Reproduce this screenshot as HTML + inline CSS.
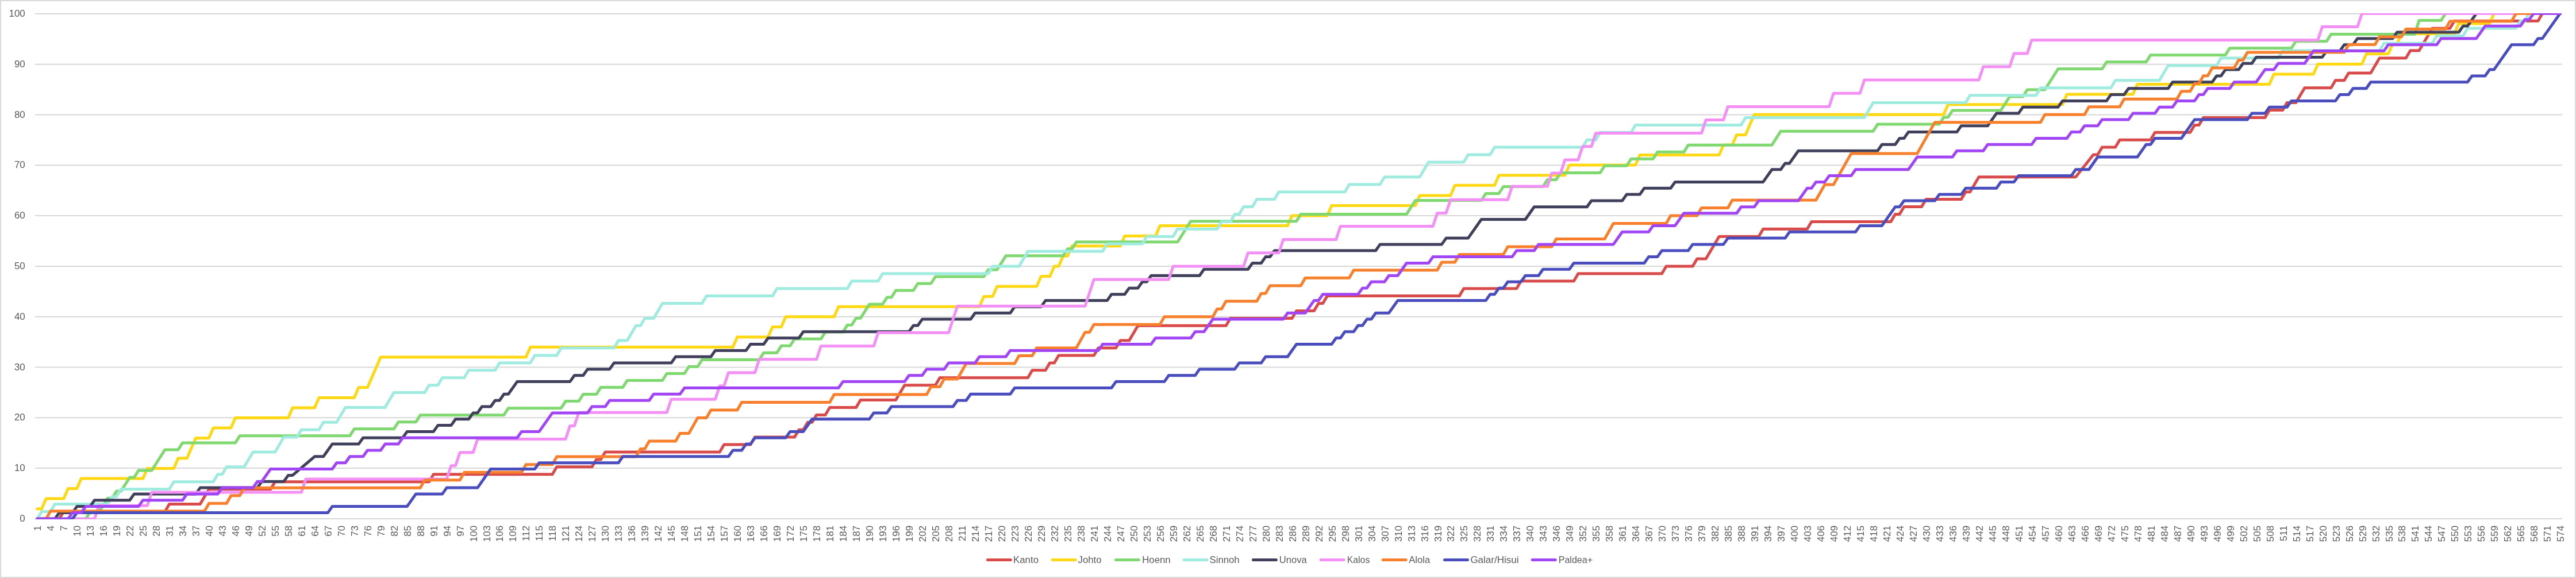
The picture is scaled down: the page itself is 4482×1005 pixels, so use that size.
<!DOCTYPE html>
<html><head><meta charset="utf-8"><title>Chart</title>
<style>
html,body{margin:0;padding:0;background:#fff}
body{width:4482px;height:1005px;overflow:hidden}
svg{display:block}
text{font-family:"Liberation Sans",sans-serif;font-size:17px;fill:#595959}
.s{fill:none;stroke-width:5.0;stroke-linejoin:round;stroke-linecap:round}
.g{stroke:#D7D7D7;stroke-width:2;fill:none}
</style></head><body>
<svg width="4482" height="1005" viewBox="0 0 4482 1005">
<rect x="0" y="0" width="4482" height="1005" fill="#fff"/>
<rect x="1" y="1" width="4480" height="1003" fill="none" stroke="#D9D9D9" stroke-width="2"/>
<g class="g">
<line x1="61.0" y1="901.9" x2="4458.0" y2="901.9"/>
<line x1="61.0" y1="814.1" x2="4458.0" y2="814.1"/>
<line x1="61.0" y1="726.3" x2="4458.0" y2="726.3"/>
<line x1="61.0" y1="638.5" x2="4458.0" y2="638.5"/>
<line x1="61.0" y1="550.7" x2="4458.0" y2="550.7"/>
<line x1="61.0" y1="462.9" x2="4458.0" y2="462.9"/>
<line x1="61.0" y1="375.1" x2="4458.0" y2="375.1"/>
<line x1="61.0" y1="287.3" x2="4458.0" y2="287.3"/>
<line x1="61.0" y1="199.5" x2="4458.0" y2="199.5"/>
<line x1="61.0" y1="111.7" x2="4458.0" y2="111.7"/>
<line x1="61.0" y1="23.9" x2="4458.0" y2="23.9"/>
</g>
<g text-anchor="end" style="filter:grayscale(1)">
<text x="43.8" y="907.0">0</text>
<text x="43.8" y="819.2">10</text>
<text x="43.8" y="731.4">20</text>
<text x="43.8" y="643.6">30</text>
<text x="43.8" y="555.8">40</text>
<text x="43.8" y="468.0">50</text>
<text x="43.8" y="380.2">60</text>
<text x="43.8" y="292.4">70</text>
<text x="43.8" y="204.6">80</text>
<text x="43.8" y="116.8">90</text>
<text x="43.8" y="29.0">100</text>
</g>
<g text-anchor="end" style="filter:grayscale(1)">
<text transform="translate(70.9,913.9) rotate(-90)">1</text>
<text transform="translate(93.9,913.9) rotate(-90)">4</text>
<text transform="translate(116.9,913.9) rotate(-90)">7</text>
<text transform="translate(139.9,913.9) rotate(-90)">10</text>
<text transform="translate(162.9,913.9) rotate(-90)">13</text>
<text transform="translate(185.9,913.9) rotate(-90)">16</text>
<text transform="translate(208.8,913.9) rotate(-90)">19</text>
<text transform="translate(231.8,913.9) rotate(-90)">22</text>
<text transform="translate(254.8,913.9) rotate(-90)">25</text>
<text transform="translate(277.8,913.9) rotate(-90)">28</text>
<text transform="translate(300.8,913.9) rotate(-90)">31</text>
<text transform="translate(323.8,913.9) rotate(-90)">34</text>
<text transform="translate(346.8,913.9) rotate(-90)">37</text>
<text transform="translate(369.7,913.9) rotate(-90)">40</text>
<text transform="translate(392.7,913.9) rotate(-90)">43</text>
<text transform="translate(415.7,913.9) rotate(-90)">46</text>
<text transform="translate(438.7,913.9) rotate(-90)">49</text>
<text transform="translate(461.7,913.9) rotate(-90)">52</text>
<text transform="translate(484.7,913.9) rotate(-90)">55</text>
<text transform="translate(507.7,913.9) rotate(-90)">58</text>
<text transform="translate(530.7,913.9) rotate(-90)">61</text>
<text transform="translate(553.6,913.9) rotate(-90)">64</text>
<text transform="translate(576.6,913.9) rotate(-90)">67</text>
<text transform="translate(599.6,913.9) rotate(-90)">70</text>
<text transform="translate(622.6,913.9) rotate(-90)">73</text>
<text transform="translate(645.6,913.9) rotate(-90)">76</text>
<text transform="translate(668.6,913.9) rotate(-90)">79</text>
<text transform="translate(691.6,913.9) rotate(-90)">82</text>
<text transform="translate(714.5,913.9) rotate(-90)">85</text>
<text transform="translate(737.5,913.9) rotate(-90)">88</text>
<text transform="translate(760.5,913.9) rotate(-90)">91</text>
<text transform="translate(783.5,913.9) rotate(-90)">94</text>
<text transform="translate(806.5,913.9) rotate(-90)">97</text>
<text transform="translate(829.5,913.9) rotate(-90)">100</text>
<text transform="translate(852.5,913.9) rotate(-90)">103</text>
<text transform="translate(875.4,913.9) rotate(-90)">106</text>
<text transform="translate(898.4,913.9) rotate(-90)">109</text>
<text transform="translate(921.4,913.9) rotate(-90)">112</text>
<text transform="translate(944.4,913.9) rotate(-90)">115</text>
<text transform="translate(967.4,913.9) rotate(-90)">118</text>
<text transform="translate(990.4,913.9) rotate(-90)">121</text>
<text transform="translate(1013.4,913.9) rotate(-90)">124</text>
<text transform="translate(1036.3,913.9) rotate(-90)">127</text>
<text transform="translate(1059.3,913.9) rotate(-90)">130</text>
<text transform="translate(1082.3,913.9) rotate(-90)">133</text>
<text transform="translate(1105.3,913.9) rotate(-90)">136</text>
<text transform="translate(1128.3,913.9) rotate(-90)">139</text>
<text transform="translate(1151.3,913.9) rotate(-90)">142</text>
<text transform="translate(1174.3,913.9) rotate(-90)">145</text>
<text transform="translate(1197.2,913.9) rotate(-90)">148</text>
<text transform="translate(1220.2,913.9) rotate(-90)">151</text>
<text transform="translate(1243.2,913.9) rotate(-90)">154</text>
<text transform="translate(1266.2,913.9) rotate(-90)">157</text>
<text transform="translate(1289.2,913.9) rotate(-90)">160</text>
<text transform="translate(1312.2,913.9) rotate(-90)">163</text>
<text transform="translate(1335.2,913.9) rotate(-90)">166</text>
<text transform="translate(1358.2,913.9) rotate(-90)">169</text>
<text transform="translate(1381.1,913.9) rotate(-90)">172</text>
<text transform="translate(1404.1,913.9) rotate(-90)">175</text>
<text transform="translate(1427.1,913.9) rotate(-90)">178</text>
<text transform="translate(1450.1,913.9) rotate(-90)">181</text>
<text transform="translate(1473.1,913.9) rotate(-90)">184</text>
<text transform="translate(1496.1,913.9) rotate(-90)">187</text>
<text transform="translate(1519.1,913.9) rotate(-90)">190</text>
<text transform="translate(1542.0,913.9) rotate(-90)">193</text>
<text transform="translate(1565.0,913.9) rotate(-90)">196</text>
<text transform="translate(1588.0,913.9) rotate(-90)">199</text>
<text transform="translate(1611.0,913.9) rotate(-90)">202</text>
<text transform="translate(1634.0,913.9) rotate(-90)">205</text>
<text transform="translate(1657.0,913.9) rotate(-90)">208</text>
<text transform="translate(1680.0,913.9) rotate(-90)">211</text>
<text transform="translate(1702.9,913.9) rotate(-90)">214</text>
<text transform="translate(1725.9,913.9) rotate(-90)">217</text>
<text transform="translate(1748.9,913.9) rotate(-90)">220</text>
<text transform="translate(1771.9,913.9) rotate(-90)">223</text>
<text transform="translate(1794.9,913.9) rotate(-90)">226</text>
<text transform="translate(1817.9,913.9) rotate(-90)">229</text>
<text transform="translate(1840.9,913.9) rotate(-90)">232</text>
<text transform="translate(1863.8,913.9) rotate(-90)">235</text>
<text transform="translate(1886.8,913.9) rotate(-90)">238</text>
<text transform="translate(1909.8,913.9) rotate(-90)">241</text>
<text transform="translate(1932.8,913.9) rotate(-90)">244</text>
<text transform="translate(1955.8,913.9) rotate(-90)">247</text>
<text transform="translate(1978.8,913.9) rotate(-90)">250</text>
<text transform="translate(2001.8,913.9) rotate(-90)">253</text>
<text transform="translate(2024.7,913.9) rotate(-90)">256</text>
<text transform="translate(2047.7,913.9) rotate(-90)">259</text>
<text transform="translate(2070.7,913.9) rotate(-90)">262</text>
<text transform="translate(2093.7,913.9) rotate(-90)">265</text>
<text transform="translate(2116.7,913.9) rotate(-90)">268</text>
<text transform="translate(2139.7,913.9) rotate(-90)">271</text>
<text transform="translate(2162.7,913.9) rotate(-90)">274</text>
<text transform="translate(2185.6,913.9) rotate(-90)">277</text>
<text transform="translate(2208.6,913.9) rotate(-90)">280</text>
<text transform="translate(2231.6,913.9) rotate(-90)">283</text>
<text transform="translate(2254.6,913.9) rotate(-90)">286</text>
<text transform="translate(2277.6,913.9) rotate(-90)">289</text>
<text transform="translate(2300.6,913.9) rotate(-90)">292</text>
<text transform="translate(2323.6,913.9) rotate(-90)">295</text>
<text transform="translate(2346.6,913.9) rotate(-90)">298</text>
<text transform="translate(2369.5,913.9) rotate(-90)">301</text>
<text transform="translate(2392.5,913.9) rotate(-90)">304</text>
<text transform="translate(2415.5,913.9) rotate(-90)">307</text>
<text transform="translate(2438.5,913.9) rotate(-90)">310</text>
<text transform="translate(2461.5,913.9) rotate(-90)">313</text>
<text transform="translate(2484.5,913.9) rotate(-90)">316</text>
<text transform="translate(2507.5,913.9) rotate(-90)">319</text>
<text transform="translate(2530.4,913.9) rotate(-90)">322</text>
<text transform="translate(2553.4,913.9) rotate(-90)">325</text>
<text transform="translate(2576.4,913.9) rotate(-90)">328</text>
<text transform="translate(2599.4,913.9) rotate(-90)">331</text>
<text transform="translate(2622.4,913.9) rotate(-90)">334</text>
<text transform="translate(2645.4,913.9) rotate(-90)">337</text>
<text transform="translate(2668.4,913.9) rotate(-90)">340</text>
<text transform="translate(2691.3,913.9) rotate(-90)">343</text>
<text transform="translate(2714.3,913.9) rotate(-90)">346</text>
<text transform="translate(2737.3,913.9) rotate(-90)">349</text>
<text transform="translate(2760.3,913.9) rotate(-90)">352</text>
<text transform="translate(2783.3,913.9) rotate(-90)">355</text>
<text transform="translate(2806.3,913.9) rotate(-90)">358</text>
<text transform="translate(2829.3,913.9) rotate(-90)">361</text>
<text transform="translate(2852.2,913.9) rotate(-90)">364</text>
<text transform="translate(2875.2,913.9) rotate(-90)">367</text>
<text transform="translate(2898.2,913.9) rotate(-90)">370</text>
<text transform="translate(2921.2,913.9) rotate(-90)">373</text>
<text transform="translate(2944.2,913.9) rotate(-90)">376</text>
<text transform="translate(2967.2,913.9) rotate(-90)">379</text>
<text transform="translate(2990.2,913.9) rotate(-90)">382</text>
<text transform="translate(3013.1,913.9) rotate(-90)">385</text>
<text transform="translate(3036.1,913.9) rotate(-90)">388</text>
<text transform="translate(3059.1,913.9) rotate(-90)">391</text>
<text transform="translate(3082.1,913.9) rotate(-90)">394</text>
<text transform="translate(3105.1,913.9) rotate(-90)">397</text>
<text transform="translate(3128.1,913.9) rotate(-90)">400</text>
<text transform="translate(3151.1,913.9) rotate(-90)">403</text>
<text transform="translate(3174.0,913.9) rotate(-90)">406</text>
<text transform="translate(3197.0,913.9) rotate(-90)">409</text>
<text transform="translate(3220.0,913.9) rotate(-90)">412</text>
<text transform="translate(3243.0,913.9) rotate(-90)">415</text>
<text transform="translate(3266.0,913.9) rotate(-90)">418</text>
<text transform="translate(3289.0,913.9) rotate(-90)">421</text>
<text transform="translate(3312.0,913.9) rotate(-90)">424</text>
<text transform="translate(3335.0,913.9) rotate(-90)">427</text>
<text transform="translate(3357.9,913.9) rotate(-90)">430</text>
<text transform="translate(3380.9,913.9) rotate(-90)">433</text>
<text transform="translate(3403.9,913.9) rotate(-90)">436</text>
<text transform="translate(3426.9,913.9) rotate(-90)">439</text>
<text transform="translate(3449.9,913.9) rotate(-90)">442</text>
<text transform="translate(3472.9,913.9) rotate(-90)">445</text>
<text transform="translate(3495.9,913.9) rotate(-90)">448</text>
<text transform="translate(3518.8,913.9) rotate(-90)">451</text>
<text transform="translate(3541.8,913.9) rotate(-90)">454</text>
<text transform="translate(3564.8,913.9) rotate(-90)">457</text>
<text transform="translate(3587.8,913.9) rotate(-90)">460</text>
<text transform="translate(3610.8,913.9) rotate(-90)">463</text>
<text transform="translate(3633.8,913.9) rotate(-90)">466</text>
<text transform="translate(3656.8,913.9) rotate(-90)">469</text>
<text transform="translate(3679.7,913.9) rotate(-90)">472</text>
<text transform="translate(3702.7,913.9) rotate(-90)">475</text>
<text transform="translate(3725.7,913.9) rotate(-90)">478</text>
<text transform="translate(3748.7,913.9) rotate(-90)">481</text>
<text transform="translate(3771.7,913.9) rotate(-90)">484</text>
<text transform="translate(3794.7,913.9) rotate(-90)">487</text>
<text transform="translate(3817.7,913.9) rotate(-90)">490</text>
<text transform="translate(3840.6,913.9) rotate(-90)">493</text>
<text transform="translate(3863.6,913.9) rotate(-90)">496</text>
<text transform="translate(3886.6,913.9) rotate(-90)">499</text>
<text transform="translate(3909.6,913.9) rotate(-90)">502</text>
<text transform="translate(3932.6,913.9) rotate(-90)">505</text>
<text transform="translate(3955.6,913.9) rotate(-90)">508</text>
<text transform="translate(3978.6,913.9) rotate(-90)">511</text>
<text transform="translate(4001.5,913.9) rotate(-90)">514</text>
<text transform="translate(4024.5,913.9) rotate(-90)">517</text>
<text transform="translate(4047.5,913.9) rotate(-90)">520</text>
<text transform="translate(4070.5,913.9) rotate(-90)">523</text>
<text transform="translate(4093.5,913.9) rotate(-90)">526</text>
<text transform="translate(4116.5,913.9) rotate(-90)">529</text>
<text transform="translate(4139.5,913.9) rotate(-90)">532</text>
<text transform="translate(4162.5,913.9) rotate(-90)">535</text>
<text transform="translate(4185.4,913.9) rotate(-90)">538</text>
<text transform="translate(4208.4,913.9) rotate(-90)">541</text>
<text transform="translate(4231.4,913.9) rotate(-90)">544</text>
<text transform="translate(4254.4,913.9) rotate(-90)">547</text>
<text transform="translate(4277.4,913.9) rotate(-90)">550</text>
<text transform="translate(4300.4,913.9) rotate(-90)">553</text>
<text transform="translate(4323.4,913.9) rotate(-90)">556</text>
<text transform="translate(4346.3,913.9) rotate(-90)">559</text>
<text transform="translate(4369.3,913.9) rotate(-90)">562</text>
<text transform="translate(4392.3,913.9) rotate(-90)">565</text>
<text transform="translate(4415.3,913.9) rotate(-90)">568</text>
<text transform="translate(4438.3,913.9) rotate(-90)">571</text>
<text transform="translate(4461.3,913.9) rotate(-90)">574</text>
</g>
<clipPath id="cp"><rect x="61" y="23.0" width="4397" height="879.8"/></clipPath>
<g clip-path="url(#cp)">
<polyline class="s" stroke="#D94A4A" points="64.8,902.3 103.1,902.3 110.8,889.4 287.0,889.4 294.6,876.5 348.3,876.5 363.6,850.6 470.8,850.6 478.5,837.7 746.6,837.7 754.3,824.8 961.1,824.8 968.7,811.8 1030.0,811.8 1037.7,798.9 1045.3,798.9 1053.0,786.0 1252.2,786.0 1259.8,773.1 1305.8,773.1 1313.5,760.1 1382.4,760.1 1390.1,747.2 1397.7,747.2 1405.4,734.3 1413.0,734.3 1420.7,721.4 1436.0,721.4 1443.7,708.4 1489.6,708.4 1497.3,695.5 1558.6,695.5 1573.9,669.7 1627.5,669.7 1635.2,656.8 1788.4,656.8 1796.1,643.8 1819.0,643.8 1826.7,630.9 1834.4,630.9 1842.0,618.0 1903.3,618.0 1911.0,605.1 1941.6,605.1 1949.3,592.1 1964.6,592.1 1979.9,566.3 2133.1,566.3 2140.8,553.4 2248.0,553.4 2255.7,540.4 2286.3,540.4 2294.0,527.5 2301.6,527.5 2309.3,514.6 2539.1,514.6 2546.8,501.7 2638.7,501.7 2646.3,488.7 2738.3,488.7 2745.9,475.8 2891.5,475.8 2899.1,462.9 2945.1,462.9 2952.8,450.0 2968.1,450.0 2991.1,411.2 3060.0,411.2 3067.7,398.3 3144.3,398.3 3151.9,385.4 3289.8,385.4 3297.5,372.4 3305.1,372.4 3312.8,359.5 3343.4,359.5 3351.1,346.6 3412.4,346.6 3420.0,333.7 3427.7,333.7 3443.0,307.8 3611.5,307.8 3642.2,269.0 3649.8,269.0 3657.5,256.1 3680.5,256.1 3688.1,243.2 3741.8,243.2 3749.4,230.3 3810.7,230.3 3818.4,217.4 3826.0,217.4 3833.7,204.4 3940.9,204.4 3948.6,191.5 3971.6,191.5 3979.2,178.6 3994.6,178.6 4009.9,152.7 4055.8,152.7 4063.5,139.8 4078.8,139.8 4086.5,126.9 4124.8,126.9 4140.1,101.0 4186.1,101.0 4193.7,88.1 4209.0,88.1 4232.0,49.3 4262.7,49.3 4270.3,36.4 4415.9,36.4 4423.5,23.5 4454.2,23.5"/>
<polyline class="s" stroke="#FDD813" points="64.8,884.7 72.5,884.7 80.2,867.1 110.8,867.1 118.5,849.6 133.8,849.6 141.4,832.0 248.7,832.0 256.3,814.4 302.3,814.4 310.0,796.8 325.3,796.8 340.6,761.7 363.6,761.7 371.2,744.1 401.9,744.1 409.5,726.5 501.5,726.5 509.1,709.0 547.4,709.0 555.1,691.4 616.4,691.4 624.0,673.8 639.4,673.8 662.3,621.1 915.1,621.1 922.8,603.5 1275.2,603.5 1282.8,585.9 1336.4,585.9 1344.1,568.4 1359.4,568.4 1367.1,550.8 1451.3,550.8 1459.0,533.2 1704.1,533.2 1711.8,515.6 1727.1,515.6 1734.8,498.1 1803.7,498.1 1811.4,480.5 1826.7,480.5 1834.4,462.9 1842.0,462.9 1849.7,445.3 1857.3,445.3 1865.0,427.7 1949.3,427.7 1956.9,410.2 2010.5,410.2 2018.2,392.6 2240.3,392.6 2248.0,375.0 2309.3,375.0 2317.0,357.4 2462.5,357.4 2470.2,339.9 2523.8,339.9 2531.4,322.3 2600.4,322.3 2608.0,304.7 2722.9,304.7 2730.6,287.1 2845.5,287.1 2853.2,269.6 2991.1,269.6 2998.7,252.0 3014.0,252.0 3021.7,234.4 3037.0,234.4 3052.3,199.3 3381.7,199.3 3389.4,181.7 3588.6,181.7 3596.2,164.1 3711.1,164.1 3718.8,146.5 3948.6,146.5 3956.3,129.0 4025.2,129.0 4032.9,111.4 4109.5,111.4 4117.1,93.8 4155.4,93.8 4163.1,76.2 4170.7,76.2 4178.4,58.7 4270.3,58.7 4278.0,41.1 4331.6,41.1 4339.3,23.5 4454.2,23.5"/>
<polyline class="s" stroke="#80D870" points="64.8,902.3 149.1,902.3 156.8,890.3 172.1,890.3 187.4,866.2 195.1,866.2 202.7,854.1 210.4,854.1 225.7,830.1 233.4,830.1 241.0,818.0 264.0,818.0 287.0,781.9 310.0,781.9 317.6,769.9 409.5,769.9 417.2,757.8 608.7,757.8 616.4,745.8 685.3,745.8 693.0,733.8 723.6,733.8 731.3,721.7 876.8,721.7 884.5,709.7 976.4,709.7 984.1,697.6 1007.0,697.6 1014.7,685.6 1037.7,685.6 1045.3,673.6 1083.6,673.6 1091.3,661.5 1152.6,661.5 1160.2,649.5 1190.9,649.5 1198.6,637.5 1213.9,637.5 1221.5,625.4 1321.1,625.4 1328.8,613.4 1351.8,613.4 1359.4,601.3 1374.7,601.3 1382.4,589.3 1428.4,589.3 1436.0,577.3 1466.7,577.3 1474.3,565.2 1482.0,565.2 1489.6,553.2 1497.3,553.2 1512.6,529.1 1535.6,529.1 1543.3,517.1 1550.9,517.1 1558.6,505.0 1589.2,505.0 1596.9,493.0 1619.9,493.0 1627.5,481.0 1711.8,481.0 1719.5,468.9 1734.8,468.9 1750.1,444.8 1849.7,444.8 1857.3,432.8 1865.0,432.8 1872.7,420.8 2048.8,420.8 2071.8,384.7 2255.7,384.7 2263.3,372.6 2447.2,372.6 2462.5,348.5 2577.4,348.5 2585.1,336.5 2608.0,336.5 2615.7,324.5 2684.6,324.5 2692.3,312.4 2707.6,312.4 2715.3,300.4 2784.2,300.4 2791.9,288.3 2830.2,288.3 2837.9,276.3 2876.2,276.3 2883.8,264.3 2929.8,264.3 2937.4,252.2 3083.0,252.2 3098.3,228.2 3259.2,228.2 3266.8,216.1 3374.1,216.1 3381.7,204.1 3389.4,204.1 3397.1,192.0 3481.3,192.0 3496.6,168.0 3519.6,168.0 3527.3,155.9 3557.9,155.9 3580.9,119.8 3657.5,119.8 3665.2,107.8 3734.1,107.8 3741.8,95.7 3872.0,95.7 3879.6,83.7 3986.9,83.7 3994.6,71.7 4048.2,71.7 4055.8,59.6 4201.4,59.6 4209.0,35.5 4247.3,35.5 4255.0,23.5 4454.2,23.5"/>
<polyline class="s" stroke="#A0EBE0" points="64.8,902.3 72.5,889.4 87.8,889.4 95.5,876.5 187.4,876.5 195.1,863.5 202.7,863.5 210.4,850.6 294.6,850.6 302.3,837.7 371.2,837.7 378.9,824.8 386.6,824.8 394.2,811.8 424.9,811.8 440.2,786.0 478.5,786.0 493.8,760.1 516.8,760.1 524.4,747.2 555.1,747.2 562.7,734.3 585.7,734.3 601.0,708.4 670.0,708.4 685.3,682.6 738.9,682.6 746.6,669.7 761.9,669.7 769.6,656.8 807.9,656.8 815.5,643.8 861.5,643.8 869.2,630.9 922.8,630.9 930.4,618.0 968.7,618.0 976.4,605.1 1068.3,605.1 1076.0,592.1 1091.3,592.1 1106.6,566.3 1114.3,566.3 1121.9,553.4 1137.3,553.4 1152.6,527.5 1221.5,527.5 1229.2,514.6 1344.1,514.6 1351.8,501.7 1474.3,501.7 1482.0,488.7 1527.9,488.7 1535.6,475.8 1719.5,475.8 1727.1,462.9 1773.1,462.9 1788.4,437.1 1918.6,437.1 1926.3,424.1 1987.6,424.1 1995.2,411.2 2041.2,411.2 2048.8,398.3 2117.8,398.3 2125.4,385.4 2140.8,385.4 2148.4,372.4 2156.1,372.4 2163.7,359.5 2179.1,359.5 2186.7,346.6 2217.4,346.6 2225.0,333.7 2339.9,333.7 2347.6,320.7 2401.2,320.7 2408.9,307.8 2470.2,307.8 2485.5,282.0 2546.8,282.0 2554.4,269.0 2592.7,269.0 2600.4,256.1 2753.6,256.1 2761.2,243.2 2776.6,243.2 2784.2,230.3 2837.9,230.3 2845.5,217.4 3029.4,217.4 3037.0,204.4 3243.8,204.4 3259.2,178.6 3420.0,178.6 3427.7,165.7 3542.6,165.7 3550.3,152.7 3672.8,152.7 3680.5,139.8 3757.1,139.8 3772.4,114.0 3856.7,114.0 3864.3,101.0 3963.9,101.0 3971.6,88.1 4140.1,88.1 4147.8,75.2 4232.0,75.2 4239.7,62.3 4285.6,62.3 4293.3,49.3 4377.6,49.3 4385.2,36.4 4392.9,36.4 4400.5,23.5 4454.2,23.5"/>
<polyline class="s" stroke="#40405C" points="64.8,902.3 95.5,902.3 103.1,891.5 126.1,891.5 133.8,880.6 156.8,880.6 164.4,869.8 225.7,869.8 233.4,858.9 340.6,858.9 348.3,848.1 447.8,848.1 455.5,837.2 493.8,837.2 501.5,826.4 509.1,826.4 547.4,793.8 562.7,793.8 578.1,772.1 624.0,772.1 631.7,761.3 700.6,761.3 708.3,750.4 754.3,750.4 761.9,739.6 784.9,739.6 792.6,728.7 815.5,728.7 823.2,717.9 830.9,717.9 838.5,707.0 853.8,707.0 861.5,696.2 869.2,696.2 876.8,685.3 884.5,685.3 899.8,663.6 991.7,663.6 999.4,652.8 1014.7,652.8 1022.4,641.9 1060.7,641.9 1068.3,631.1 1167.9,631.1 1175.6,620.2 1236.9,620.2 1244.5,609.4 1298.1,609.4 1305.8,598.5 1328.8,598.5 1336.4,587.7 1390.1,587.7 1397.7,576.8 1581.6,576.8 1589.2,566.0 1596.9,566.0 1604.5,555.1 1688.8,555.1 1696.5,544.3 1757.8,544.3 1765.4,533.4 1811.4,533.4 1819.0,522.6 1926.3,522.6 1933.9,511.7 1956.9,511.7 1964.6,500.9 1979.9,500.9 1987.6,490.0 1995.2,490.0 2002.9,479.2 2087.1,479.2 2094.8,468.3 2171.4,468.3 2179.1,457.5 2194.4,457.5 2202.0,446.6 2209.7,446.6 2217.4,435.8 2393.6,435.8 2401.2,424.9 2508.5,424.9 2516.1,414.1 2554.4,414.1 2577.4,381.5 2654.0,381.5 2669.3,359.8 2761.2,359.8 2768.9,349.0 2822.5,349.0 2830.2,338.1 2853.2,338.1 2860.8,327.3 2906.8,327.3 2914.5,316.4 3067.7,316.4 3083.0,294.7 3098.3,294.7 3106.0,283.9 3113.6,283.9 3128.9,262.2 3266.8,262.2 3274.5,251.3 3297.5,251.3 3305.1,240.5 3312.8,240.5 3320.4,229.6 3404.7,229.6 3412.4,218.8 3458.3,218.8 3473.7,197.1 3512.0,197.1 3519.6,186.2 3580.9,186.2 3588.6,175.4 3665.2,175.4 3672.8,164.5 3695.8,164.5 3703.5,153.7 3772.4,153.7 3780.1,142.8 3849.0,142.8 3856.7,132.0 3864.3,132.0 3872.0,121.1 3895.0,121.1 3902.6,110.3 3918.0,110.3 3925.6,99.4 4040.5,99.4 4048.2,88.6 4071.2,88.6 4078.8,77.7 4094.1,77.7 4101.8,66.9 4163.1,66.9 4170.7,56.0 4278.0,56.0 4285.6,45.2 4293.3,45.2 4308.6,23.5 4454.2,23.5"/>
<polyline class="s" stroke="#F490F5" points="64.8,902.3 164.4,902.3 172.1,879.2 256.3,879.2 264.0,856.0 524.4,856.0 532.1,832.9 777.2,832.9 784.9,809.8 792.6,809.8 800.2,786.7 823.2,786.7 830.9,763.5 984.1,763.5 991.7,740.4 999.4,740.4 1007.0,717.3 1160.2,717.3 1167.9,694.2 1244.5,694.2 1252.2,671.0 1259.8,671.0 1267.5,647.9 1313.5,647.9 1321.1,624.8 1420.7,624.8 1428.4,601.7 1520.3,601.7 1527.9,578.5 1650.5,578.5 1665.8,532.3 1888.0,532.3 1903.3,486.0 2033.5,486.0 2041.2,462.9 2163.7,462.9 2171.4,439.8 2225.0,439.8 2232.7,416.6 2324.6,416.6 2332.3,393.5 2493.1,393.5 2500.8,370.4 2516.1,370.4 2523.8,347.3 2623.4,347.3 2631.0,324.1 2692.3,324.1 2700.0,301.0 2715.3,301.0 2722.9,277.9 2745.9,277.9 2753.6,254.8 2768.9,254.8 2776.6,231.6 2960.4,231.6 2968.1,208.5 2998.7,208.5 3006.4,185.4 3182.6,185.4 3190.2,162.3 3236.2,162.3 3243.8,139.1 3443.0,139.1 3450.7,116.0 3496.6,116.0 3504.3,92.9 3527.3,92.9 3534.9,69.8 4032.9,69.8 4040.5,46.6 4101.8,46.6 4109.5,23.5 4454.2,23.5"/>
<polyline class="s" stroke="#F8802D" points="64.8,902.3 80.2,902.3 87.8,888.8 355.9,888.8 363.6,875.3 394.2,875.3 401.9,861.7 417.2,861.7 424.9,848.2 731.3,848.2 738.9,834.7 800.2,834.7 807.9,821.2 907.5,821.2 915.1,807.7 961.1,807.7 968.7,794.1 1106.6,794.1 1114.3,780.6 1121.9,780.6 1129.6,767.1 1175.6,767.1 1183.2,753.6 1198.6,753.6 1213.9,726.5 1229.2,726.5 1236.9,713.0 1282.8,713.0 1290.5,699.5 1443.7,699.5 1451.3,686.0 1612.2,686.0 1619.9,672.5 1635.2,672.5 1642.8,658.9 1665.8,658.9 1681.1,631.9 1765.4,631.9 1773.1,618.4 1796.1,618.4 1803.7,604.9 1872.7,604.9 1888.0,577.8 1895.6,577.8 1903.3,564.3 2018.2,564.3 2025.9,550.8 2110.1,550.8 2117.8,537.3 2125.4,537.3 2133.1,523.7 2186.7,523.7 2194.4,510.2 2202.0,510.2 2209.7,496.7 2263.3,496.7 2271.0,483.2 2347.6,483.2 2355.3,469.7 2500.8,469.7 2508.5,456.1 2531.4,456.1 2539.1,442.6 2615.7,442.6 2623.4,429.1 2700.0,429.1 2707.6,415.6 2791.9,415.6 2807.2,388.5 2899.1,388.5 2906.8,375.0 2952.8,375.0 2960.4,361.5 3006.4,361.5 3014.0,348.0 3159.6,348.0 3174.9,320.9 3190.2,320.9 3220.9,266.9 3335.8,266.9 3366.4,212.8 3550.3,212.8 3557.9,199.3 3626.9,199.3 3634.5,185.7 3688.1,185.7 3695.8,172.2 3787.7,172.2 3795.4,158.7 3810.7,158.7 3818.4,145.2 3826.0,145.2 3833.7,131.7 3841.3,131.7 3849.0,118.1 3887.3,118.1 3895.0,104.6 3902.6,104.6 3910.3,91.1 4078.8,91.1 4086.5,77.6 4132.4,77.6 4140.1,64.1 4178.4,64.1 4186.1,50.5 4255.0,50.5 4262.7,37.0 4369.9,37.0 4377.6,23.5 4454.2,23.5"/>
<polyline class="s" stroke="#4A4DBD" points="64.8,902.3 126.1,902.3 133.8,891.5 570.4,891.5 578.1,880.6 708.3,880.6 723.6,858.9 769.6,858.9 777.2,848.1 830.9,848.1 853.8,815.5 930.4,815.5 938.1,804.7 1076.0,804.7 1083.6,793.8 1267.5,793.8 1275.2,783.0 1290.5,783.0 1298.1,772.1 1305.8,772.1 1313.5,761.3 1367.1,761.3 1374.7,750.4 1397.7,750.4 1413.0,728.7 1512.6,728.7 1520.3,717.9 1543.3,717.9 1550.9,707.0 1658.2,707.0 1665.8,696.2 1681.1,696.2 1688.8,685.3 1757.8,685.3 1765.4,674.5 1933.9,674.5 1941.6,663.6 2025.9,663.6 2033.5,652.8 2079.5,652.8 2087.1,641.9 2148.4,641.9 2156.1,631.1 2194.4,631.1 2202.0,620.2 2240.3,620.2 2255.7,598.5 2317.0,598.5 2324.6,587.7 2332.3,587.7 2339.9,576.8 2355.3,576.8 2362.9,566.0 2370.6,566.0 2378.2,555.1 2385.9,555.1 2393.6,544.3 2416.5,544.3 2431.9,522.6 2585.1,522.6 2592.7,511.7 2600.4,511.7 2608.0,500.9 2615.7,500.9 2623.4,490.0 2646.3,490.0 2654.0,479.2 2677.0,479.2 2684.6,468.3 2730.6,468.3 2738.3,457.5 2860.8,457.5 2868.5,446.6 2883.8,446.6 2891.5,435.8 2937.4,435.8 2945.1,424.9 2998.7,424.9 3006.4,414.1 3106.0,414.1 3113.6,403.2 3228.5,403.2 3236.2,392.4 3274.5,392.4 3297.5,359.8 3305.1,359.8 3312.8,349.0 3366.4,349.0 3374.1,338.1 3412.4,338.1 3420.0,327.3 3473.7,327.3 3481.3,316.4 3504.3,316.4 3512.0,305.6 3603.9,305.6 3611.5,294.7 3634.5,294.7 3649.8,273.0 3718.8,273.0 3734.1,251.3 3741.8,251.3 3749.4,240.5 3795.4,240.5 3818.4,207.9 3910.3,207.9 3918.0,197.1 3940.9,197.1 3948.6,186.2 3979.2,186.2 3986.9,175.4 4063.5,175.4 4071.2,164.5 4086.5,164.5 4094.1,153.7 4117.1,153.7 4124.8,142.8 4293.3,142.8 4301.0,132.0 4323.9,132.0 4331.6,121.1 4339.3,121.1 4369.9,77.7 4408.2,77.7 4415.9,66.9 4423.5,66.9 4454.2,23.5"/>
<polyline class="s" stroke="#A245F5" points="64.8,902.3 118.5,902.3 126.1,891.5 141.4,891.5 149.1,880.6 241.0,880.6 248.7,869.8 317.6,869.8 325.3,858.9 378.9,858.9 386.6,848.1 440.2,848.1 447.8,837.2 455.5,837.2 470.8,815.5 578.1,815.5 585.7,804.7 601.0,804.7 608.7,793.8 631.7,793.8 639.4,783.0 662.3,783.0 670.0,772.1 693.0,772.1 700.6,761.3 899.8,761.3 907.5,750.4 938.1,750.4 961.1,717.9 1022.4,717.9 1030.0,707.0 1053.0,707.0 1060.7,696.2 1129.6,696.2 1137.3,685.3 1183.2,685.3 1190.9,674.5 1459.0,674.5 1466.7,663.6 1573.9,663.6 1581.6,652.8 1604.5,652.8 1612.2,641.9 1642.8,641.9 1650.5,631.1 1696.5,631.1 1704.1,620.2 1750.1,620.2 1757.8,609.4 1911.0,609.4 1918.6,598.5 2002.9,598.5 2010.5,587.7 2071.8,587.7 2079.5,576.8 2094.8,576.8 2110.1,555.1 2232.7,555.1 2240.3,544.3 2271.0,544.3 2286.3,522.6 2294.0,522.6 2301.6,511.7 2362.9,511.7 2370.6,500.9 2378.2,500.9 2385.9,490.0 2408.9,490.0 2416.5,479.2 2431.9,479.2 2447.2,457.5 2485.5,457.5 2493.1,446.6 2631.0,446.6 2638.7,435.8 2669.3,435.8 2677.0,424.9 2807.2,424.9 2822.5,403.2 2868.5,403.2 2876.2,392.4 2914.5,392.4 2929.8,370.7 3021.7,370.7 3029.4,359.8 3052.3,359.8 3060.0,349.0 3128.9,349.0 3144.3,327.3 3151.9,327.3 3159.6,316.4 3174.9,316.4 3182.6,305.6 3220.9,305.6 3228.5,294.7 3320.4,294.7 3335.8,273.0 3397.1,273.0 3404.7,262.2 3450.7,262.2 3458.3,251.3 3534.9,251.3 3542.6,240.5 3596.2,240.5 3603.9,229.6 3619.2,229.6 3626.9,218.8 3649.8,218.8 3657.5,207.9 3703.5,207.9 3711.1,197.1 3749.4,197.1 3757.1,186.2 3780.1,186.2 3787.7,175.4 3818.4,175.4 3826.0,164.5 3833.7,164.5 3841.3,153.7 3879.6,153.7 3887.3,142.8 3925.6,142.8 3940.9,121.1 3956.3,121.1 3963.9,110.3 4009.9,110.3 4025.2,88.6 4147.8,88.6 4155.4,77.7 4239.7,77.7 4247.3,66.9 4308.6,66.9 4323.9,45.2 4385.2,45.2 4392.9,34.3 4400.5,34.3 4408.2,23.5 4454.2,23.5"/>
</g>
<line class="s" stroke="#D94A4A" x1="1718.4" y1="973.5" x2="1758.4" y2="973.5"/>
<line class="s" stroke="#FDD813" x1="1831.2" y1="973.5" x2="1871.2" y2="973.5"/>
<line class="s" stroke="#80D870" x1="1941.3" y1="973.5" x2="1981.3" y2="973.5"/>
<line class="s" stroke="#A0EBE0" x1="2060.0" y1="973.5" x2="2100.0" y2="973.5"/>
<line class="s" stroke="#40405C" x1="2180.4" y1="973.5" x2="2220.4" y2="973.5"/>
<line class="s" stroke="#F490F5" x1="2298.2" y1="973.5" x2="2338.2" y2="973.5"/>
<line class="s" stroke="#F8802D" x1="2406.2" y1="973.5" x2="2446.2" y2="973.5"/>
<line class="s" stroke="#4A4DBD" x1="2513.5" y1="973.5" x2="2553.5" y2="973.5"/>
<line class="s" stroke="#A245F5" x1="2666.2" y1="973.5" x2="2706.2" y2="973.5"/>
<g style="filter:grayscale(1)">
<text x="1763.0" y="979" textLength="44.0" lengthAdjust="spacingAndGlyphs">Kanto</text>
<text x="1875.6" y="979" textLength="41.0" lengthAdjust="spacingAndGlyphs">Johto</text>
<text x="1987.2" y="979" textLength="49.5" lengthAdjust="spacingAndGlyphs">Hoenn</text>
<text x="2104.5" y="979" textLength="52.1" lengthAdjust="spacingAndGlyphs">Sinnoh</text>
<text x="2225.8" y="979" textLength="47.8" lengthAdjust="spacingAndGlyphs">Unova</text>
<text x="2343.7" y="979" textLength="39.7" lengthAdjust="spacingAndGlyphs">Kalos</text>
<text x="2451.2" y="979" textLength="37.1" lengthAdjust="spacingAndGlyphs">Alola</text>
<text x="2558.4" y="979" textLength="84.1" lengthAdjust="spacingAndGlyphs">Galar/Hisui</text>
<text x="2711.7" y="979" textLength="59.4" lengthAdjust="spacingAndGlyphs">Paldea+</text>
</g>
</svg>
</body></html>
